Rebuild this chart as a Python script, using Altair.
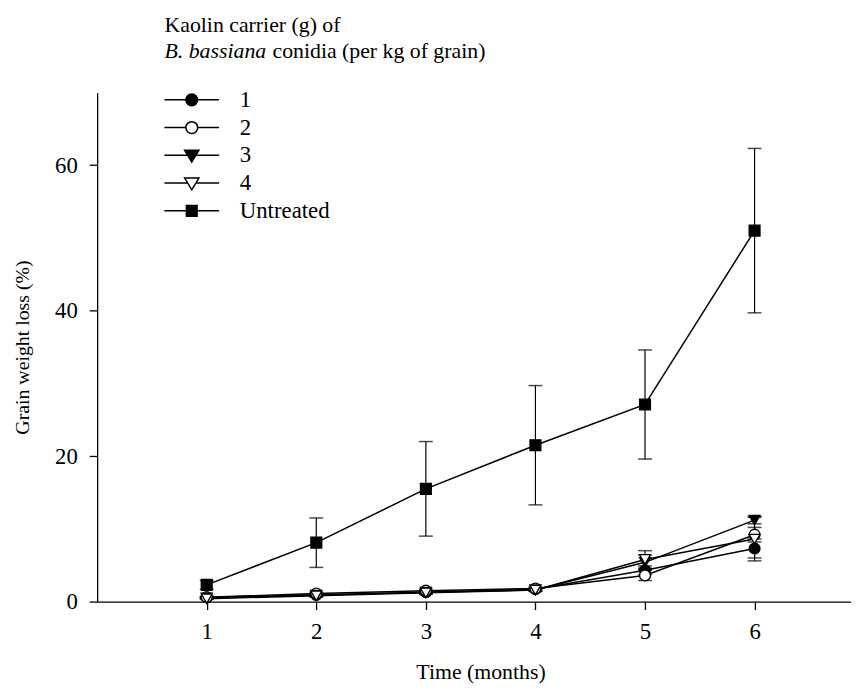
import altair as alt
import pandas as pd

FONT = "Liberation Serif"

months = [1, 2, 3, 4, 5, 6]
treatments = ["1", "2", "3", "4", "Untreated"]

t1 = [0.6, 0.9, 1.3, 1.7, 4.3, 7.3]
t1_err = [0.1, 0.2, 0.2, 0.2, 0.6, 1.3]
t2 = [0.6, 1.1, 1.5, 1.8, 3.6, 9.2]
t2_err = [0.1, 0.2, 0.2, 0.2, 0.7, 1.0]
t3 = [0.5, 0.9, 1.3, 1.6, 5.4, 11.2]
t3_err = [0.1, 0.2, 0.2, 0.2, 1.0, 0.5]
t4 = [0.4, 0.8, 1.2, 1.6, 5.8, 8.6]
t4_err = [0.1, 0.2, 0.2, 0.2, 1.2, 3.0]
untreated = [2.3, 8.1, 15.5, 21.5, 27.1, 51.0]
untreated_err = [0.6, 3.4, 6.5, 8.2, 7.5, 11.3]

y_ticks = [0, 20, 40, 60]
x_title = "Time (months)"
y_title = "Grain weight loss (%)"
legend_title_1 = "Kaolin carrier (g) of"
legend_title_2_italic = "B. bassiana"
legend_title_2_rest = "conidia (per kg of grain)"

point_shapes = ["circle", "circle", "triangle-down", "triangle-down", "square"]
point_fills = ["black", "white", "black", "white", "black"]
strokes = ["black"] * 5

# legend symbols: marker with a line through it
circ = "M1,0A1,1,0,1,1,-1,0A1,1,0,1,1,1,0Z"
tri = "M-1.2,-0.85L1.2,-0.85L0,1.15Z"
sq = "M-0.9,-0.9L0.9,-0.9L0.9,0.9L-0.9,0.9Z"
legend_paths = [
    "M-4.6,0L-1,0M4.6,0L1,0" + circ,
    "M-4.6,0L-1,0M4.6,0L1,0" + circ,
    "M-4.6,0L-0.7,0M4.6,0L0.7,0" + tri,
    "M-4.6,0L-0.7,0M4.6,0L0.7,0" + tri,
    "M-4.6,0L-0.9,0M4.6,0L0.9,0" + sq,
]

rows = []
for name, vals, errs in zip(
    treatments,
    [t1, t2, t3, t4, untreated],
    [t1_err, t2_err, t3_err, t4_err, untreated_err],
):
    for m, v, e in zip(months, vals, errs):
        rows.append({"month": m, "treatment": name, "loss": v, "lo": v - e, "hi": v + e})
df = pd.DataFrame(rows)

x = alt.X(
    "month:Q",
    scale=alt.Scale(domain=[0, 6.88], nice=False, zero=False),
    axis=alt.Axis(values=months, format="d", title=x_title, titleX=387),
)
y = alt.Y(
    "loss:Q",
    scale=alt.Scale(domain=[0, 70], nice=False),
    axis=alt.Axis(values=y_ticks, title=y_title),
)

base = alt.Chart(df)

lines = base.mark_line(color="black", strokeWidth=1.5).encode(
    x=x, y=y, detail="treatment:N", order="month:Q"
)
rules = base.mark_rule(color="black", strokeWidth=1.2).encode(
    x="month:Q", y="lo:Q", y2="hi:Q"
)
caps_hi = base.mark_tick(color="black", thickness=1.5, size=14, orient="horizontal").encode(
    x="month:Q", y="hi:Q"
)
caps_lo = base.mark_tick(color="black", thickness=1.5, size=14, orient="horizontal").encode(
    x="month:Q", y="lo:Q"
)
points = base.mark_point(
    filled=True, stroke="black", strokeWidth=1.3, size=120, opacity=1
).encode(
    x=x,
    y=y,
    shape=alt.Shape("treatment:N", scale=alt.Scale(domain=treatments, range=point_shapes), legend=None),
    fill=alt.Fill("treatment:N", scale=alt.Scale(domain=treatments, range=point_fills), legend=None),
)

leg = alt.Legend(
    title=None,
    orient="none",
    legendX=67,
    legendY=-4,
    padding=0,
    symbolSize=144,
    symbolStrokeWidth=1.5,
    symbolOffset=17,
    labelOffset=37,
    rowPadding=4,
    labelFont=FONT,
    labelFontSize=23,
    labelColor="black",
    symbolOpacity=1,
)
legend_layer = base.transform_filter("false").mark_point(
    filled=True, strokeWidth=1.5, opacity=1
).encode(
    x=x,
    y=y,
    shape=alt.Shape("treatment:N", scale=alt.Scale(domain=treatments, range=legend_paths), legend=leg),
    fill=alt.Fill("treatment:N", scale=alt.Scale(domain=treatments, range=point_fills), legend=leg),
    stroke=alt.Stroke("treatment:N", scale=alt.Scale(domain=treatments, range=strokes), legend=leg),
)

def label(text, xv, yv, italic=False):
    return alt.Chart(pd.DataFrame({"t": [text]})).mark_text(
        align="left", baseline="alphabetic", font=FONT, fontSize=22, color="black",
        fontStyle="italic" if italic else "normal",
    ).encode(x=alt.value(xv), y=alt.value(yv), text="t:N")

titles = (
    label(legend_title_1, 68, -61)
    + label(legend_title_2_italic, 68, -35, italic=True)
    + label(legend_title_2_rest, 177, -35)
)

chart = (
    alt.layer(lines, rules, caps_hi, caps_lo, points, legend_layer, titles)
    .resolve_scale(shape="independent", fill="independent", stroke="independent")
    .properties(
        width=761,
        height=514,
        autosize=alt.AutoSizeParams(type="none"),
        padding={"left": 90, "top": 82, "right": 0, "bottom": 85},
    )
    .configure_view(stroke=None)
    .configure_axis(
        grid=False,
        domainColor="black",
        domainWidth=1.3,
        tickColor="black",
        tickWidth=1.3,
        tickSize=8,
        labelFont=FONT,
        labelFontSize=23,
        labelColor="black",
        titleFont=FONT,
        titleFontSize=20,
        titleFontWeight="normal",
        titleColor="black",
    )
    .configure_axisX(labelPadding=11, titlePadding=19, titleFontSize=22)
    .configure_axisY(labelPadding=12, titlePadding=22)
)

chart.save("out.html", embed_options={"renderer": "svg", "actions": False})
